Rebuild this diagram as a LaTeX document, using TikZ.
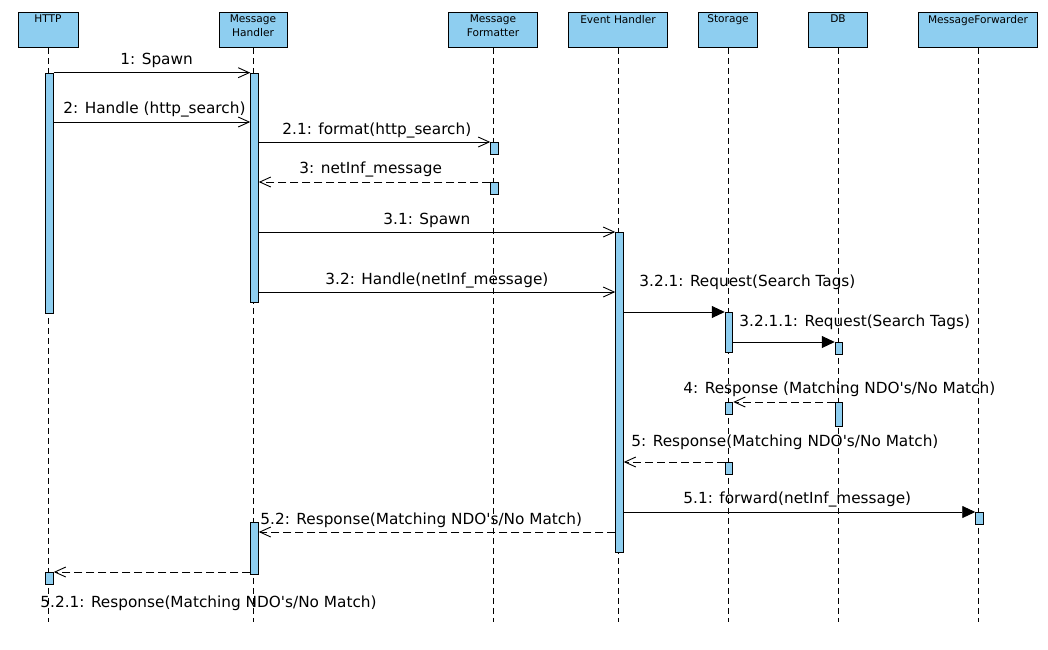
\documentclass[tikz,border=0pt]{standalone}
\usepackage{fontspec}
\setmainfont{DejaVu Sans}
\usetikzlibrary{arrows.meta}
\definecolor{barblue}{RGB}{142,206,240}

\tikzset{
  head/.style={draw, fill=barblue, minimum height=35pt, inner sep=0pt, anchor=north},
  headtxt/.style={anchor=north, align=center, inner sep=2.5pt,
    font=\fontsize{10.6}{14}\selectfont},
  bar/.style={draw, fill=barblue, minimum width=7.6pt, inner sep=0pt, anchor=north},
  lifeline/.style={dash pattern=on 6pt off 4pt},
  call/.style={-{Straight Barb[length=11pt,width=10pt]}},
  ret/.style={call, dash pattern=on 8pt off 4pt},
  sync/.style={-{Triangle[length=13pt,width=12pt]}},
  lbl/.style={anchor=west, inner sep=0pt, font=\fontsize{15.3}{18}\selectfont},
}

\begin{document}
\begin{tikzpicture}[x=1pt,y=-1pt,line width=0.9pt]
\useasboundingbox (0,0) rectangle (1048,649);

%% ---------------- participants ----------------
\node[head, minimum width=60pt,  label={[headtxt]north:HTTP}] (http) at (48,12) {};
\node[head, minimum width=68pt,  label={[headtxt]north:{Message\\Handler}}] (mh) at (253,12) {};
\node[head, minimum width=89pt,  label={[headtxt]north:{Message\\Formatter}}] (fmt) at (493,12) {};
\node[head, minimum width=99pt,  label={[headtxt]north:Event Handler}] (eh) at (618,12) {};
\node[head, minimum width=59pt,  label={[headtxt]north:Storage}] (st) at (728,12) {};
\node[head, minimum width=59pt,  label={[headtxt]north:DB}] (db) at (838,12) {};
\node[head, minimum width=119pt, label={[headtxt]north:MessageForwarder}] (fwd) at (978,12) {};

%% lifelines, drawn first so the bars sit on top
\coordinate (bot) at (0,622);
\foreach \p in {http,mh,fmt,eh,st,db,fwd}
  \draw[lifeline] (\p.south) -- (\p.south |- bot);

%% ---------------- activation bars ----------------
\node[bar, minimum height=240pt] (httpA) at (49.5,72.7) {};
\node[bar, minimum height=229pt] (mhA)   at (254.5,72.7) {};
\node[bar, minimum height=12pt]  (fmtA)  at (494.5,142) {};
\node[bar, minimum height=12pt]  (fmtB)  at (494.5,182) {};
\node[bar, minimum height=320pt] (ehA)   at (619.5,232) {};
\node[bar, minimum height=40pt]  (stA)   at (729,312) {};
\node[bar, minimum height=12pt]  (dbA)   at (839,342) {};
\node[bar, minimum height=12pt]  (stB)   at (729,402) {};
\node[bar, minimum height=24pt]  (dbB)   at (839,402) {};
\node[bar, minimum height=12pt]  (stC)   at (729,462) {};
\node[bar, minimum height=12pt]  (fwdA)  at (979.5,512) {};
\node[bar, minimum height=52pt]  (mhB)   at (254.5,522) {};
\node[bar, minimum height=12pt]  (httpB) at (49.5,572) {};

%% message levels that are not the top of a bar
\coordinate (m2)  at (0,122);
\coordinate (m32) at (0,292);
\coordinate (m52) at (0,532);

%% ---------------- messages ----------------
\draw[call] (httpA.north east) -- (mhA.north west);
\draw[call] (httpA.east |- m2) -- (mhA.west |- m2);
\draw[call] (mhA.east |- fmtA.north) -- (fmtA.north west);
\draw[ret]  (fmtB.north west) -- (mhA.east |- fmtB.north);
\draw[call] (mhA.east |- ehA.north) -- (ehA.north west);
\draw[call] (mhA.east |- m32) -- (ehA.west |- m32);
\draw[sync] (ehA.east |- stA.north) -- (stA.north west);
\draw[sync] (stA.east |- dbA.north) -- (dbA.north west);
\draw[ret]  (dbB.north west) -- (stB.north east);
\draw[ret]  (stC.north west) -- (ehA.east |- stC.north);
\draw[sync] (ehA.east |- fwdA.north) -- (fwdA.north west);
\draw[ret]  (ehA.west |- m52) -- (mhB.east |- m52);
\draw[ret]  (mhB.west |- httpB.north) -- (httpB.north east);

%% labels
\node[lbl] (l1)    at (120,60)  {1: Spawn};
\node[lbl] (l2)    at (63,109)  {2: Handle (http\_search)};
\node[lbl] (l21)   at (282,130) {2.1: format(http\_search)};
\node[lbl] (l3)    at (299,169) {3: netInf\_message};
\node[lbl] (l31)   at (383,220) {3.1: Spawn};
\node[lbl] (l32)   at (325,280) {3.2: Handle(netInf\_message)};
\node[lbl] (l321)  at (639,282) {3.2.1: Request(Search Tags)};
\node[lbl] (l3211) at (739,322) {3.2.1.1: Request(Search Tags)};
\node[lbl] (l4)    at (683,389) {4: Response (Matching NDO\textquotesingle s/No Match)};
\node[lbl] (l5)    at (631,442) {5: Response(Matching NDO\textquotesingle s/No Match)};
\node[lbl] (l51)   at (683,499) {5.1: forward(netInf\_message)};
\node[lbl] (l52)   at (260,520) {5.2: Response(Matching NDO\textquotesingle s/No Match)};
\node[lbl] (l521)  at (40,603)  {5.2.1: Response(Matching NDO\textquotesingle s/No Match)};

\end{tikzpicture}
\end{document}
